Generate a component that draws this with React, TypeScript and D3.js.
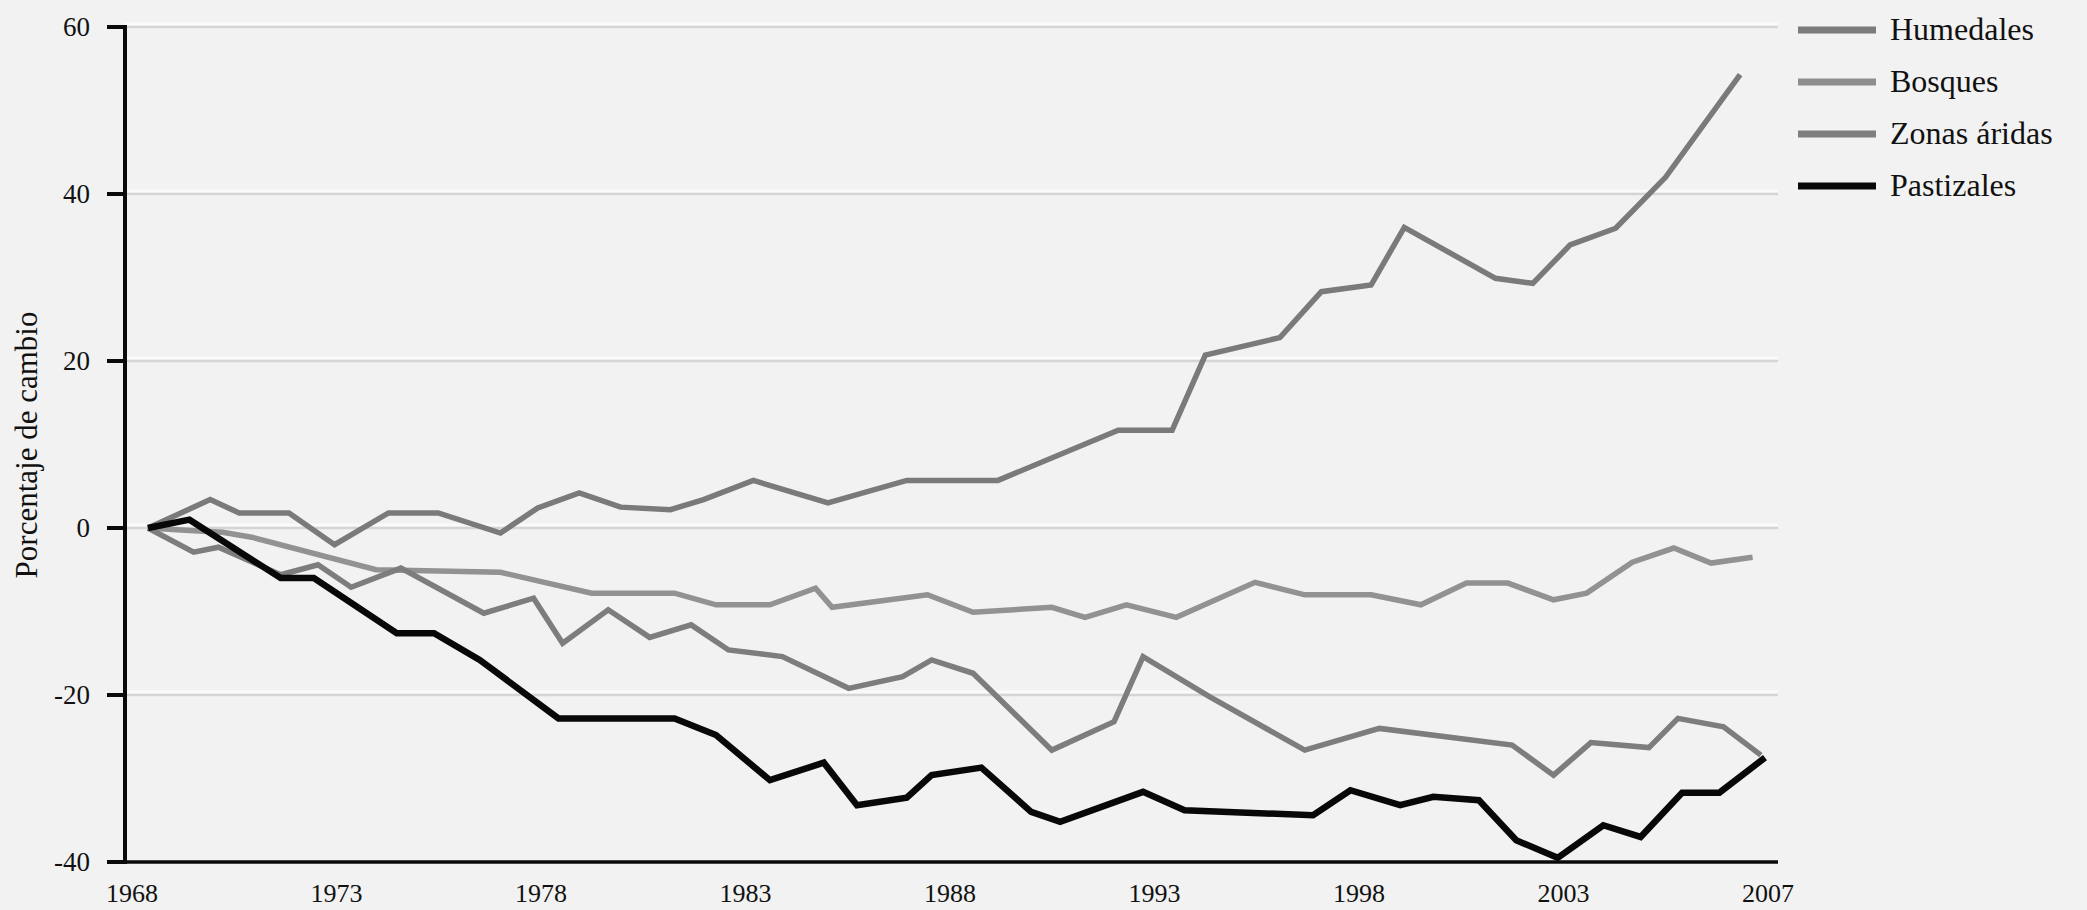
import { useMemo } from "react";
import * as d3 from "d3";

const tickLabels = ["1968", "1973", "1978", "1983", "1988", "1993", "1998", "2003", "2007"];
const yTicks = [60, 40, 20, 0, -20, -40];
const gridValues = [60, 40, 20, 0, -20];

const humedalesYears = [1968, 1969.5, 1970.2, 1971.4, 1972.5, 1973.8, 1975.0, 1976.5, 1977.4, 1978.4, 1979.4, 1980.6, 1981.4, 1982.6, 1984.4, 1986.3, 1988.5, 1991.4, 1992.7, 1993.5, 1995.3, 1996.3, 1997.5, 1998.3, 2000.5, 2001.4, 2002.3, 2003.4, 2004.6, 2006.4];
const humedalesValues = [0, 3.4, 1.8, 1.8, -2.0, 1.8, 1.8, -0.6, 2.4, 4.2, 2.5, 2.2, 3.4, 5.7, 3.0, 5.7, 5.7, 11.7, 11.7, 20.7, 22.8, 28.3, 29.1, 36.0, 29.9, 29.3, 33.9, 35.9, 42.0, 54.3];

const bosquesYears = [1968, 1969.0, 1969.8, 1970.5, 1973.5, 1976.5, 1978.7, 1980.7, 1981.7, 1983.0, 1984.1, 1984.5, 1986.8, 1987.9, 1989.8, 1990.6, 1991.6, 1992.8, 1994.7, 1995.9, 1997.5, 1998.7, 1999.8, 2000.8, 2001.9, 2002.7, 2003.8, 2004.8, 2005.7, 2006.7];
const bosquesValues = [0, -0.3, -0.5, -1.1, -5.0, -5.3, -7.8, -7.8, -9.2, -9.2, -7.2, -9.5, -8.0, -10.1, -9.5, -10.7, -9.2, -10.7, -6.5, -8.0, -8.0, -9.2, -6.6, -6.6, -8.6, -7.8, -4.1, -2.4, -4.2, -3.5];

const zonasYears = [1968, 1969.1, 1969.7, 1971.2, 1972.1, 1972.9, 1974.1, 1976.1, 1977.3, 1978.0, 1979.1, 1980.1, 1981.1, 1982.0, 1983.3, 1984.9, 1986.2, 1986.9, 1987.9, 1989.8, 1991.3, 1992.0, 1993.6, 1995.9, 1997.7, 2000.9, 2001.9, 2002.8, 2004.2, 2004.9, 2006.0, 2006.9];
const zonasValues = [0, -2.9, -2.3, -5.6, -4.4, -7.1, -4.8, -10.2, -8.4, -13.8, -9.8, -13.1, -11.6, -14.6, -15.4, -19.2, -17.8, -15.8, -17.4, -26.6, -23.2, -15.4, -20.2, -26.6, -24.0, -26.0, -29.6, -25.7, -26.3, -22.8, -23.8, -27.2];

const pastizalesYears = [1968, 1969, 1971.2, 1972, 1974, 1974.9, 1976, 1977.9, 1980.7, 1981.7, 1983, 1984.3, 1985.1, 1986.3, 1986.9, 1988.1, 1989.3, 1990, 1992, 1993, 1996.1, 1997, 1998.2, 1999, 2000.1, 2001, 2002, 2003.1, 2004, 2005, 2005.9, 2007];
const pastizalesValues = [0, 1.0, -6.0, -6.0, -12.6, -12.6, -15.8, -22.8, -22.8, -24.8, -30.2, -28.1, -33.2, -32.3, -29.6, -28.7, -34.0, -35.2, -31.6, -33.8, -34.4, -31.4, -33.2, -32.2, -32.6, -37.4, -39.5, -35.6, -37.0, -31.7, -31.7, -27.5];

const seriesNames = ["Humedales", "Bosques", "Zonas áridas", "Pastizales"];
const seriesYears = [humedalesYears, bosquesYears, zonasYears, pastizalesYears];
const seriesValues = [humedalesValues, bosquesValues, zonasValues, pastizalesValues];
const lineColors = ["#7a7a7a", "#929292", "#7d7d7d", "#080808"];
const legendColors = ["#7b7b7b", "#8e8e8e", "#7f7f7f", "#080808"];
const lineWidths = [5.5, 5.5, 5.5, 6.5];

const width = 2087;
const height = 910;
const font = "'Liberation Serif', 'Times New Roman', serif";

export default function App() {
    const x = useMemo(() => d3.scaleLinear().domain([1968, 2007]).range([148, 1765]), []);
    const y = useMemo(() => d3.scaleLinear().domain([-40, 60]).range([862, 27]), []);
    const xLabels = useMemo(() => d3.scalePoint<string>().domain(tickLabels).range([132, 1768]), []);

    const paths = useMemo(() => {
        const line = d3
            .line<[number, number]>()
            .x((d) => x(d[0]))
            .y((d) => y(d[1]));
        return seriesYears.map((years, i) => line(years.map((yr, j) => [yr, seriesValues[i][j]] as [number, number])) || undefined);
    }, [x, y]);

    const axisX = 125;
    const plotRight = 1778;

    return (
        <svg
            width={width}
            height={height}
            style={{ position: "absolute", left: 0, top: 0, display: "block", background: "#f2f2f2" }}
        >
            <rect x={0} y={0} width={width} height={height} fill="#f2f2f2" />

            {gridValues.map((v) => (
                <g key={v}>
                    <line x1={axisX} x2={plotRight} y1={y(v) - 3} y2={y(v) - 3} stroke="#fafafa" strokeWidth={3} />
                    <line x1={axisX} x2={plotRight} y1={y(v)} y2={y(v)} stroke="#d5d5d5" strokeWidth={2.5} />
                </g>
            ))}

            {paths.map((d, i) => (
                <path
                    key={seriesNames[i]}
                    d={d}
                    fill="none"
                    stroke={lineColors[i]}
                    strokeWidth={lineWidths[i]}
                    strokeLinejoin="miter"
                />
            ))}

            {/* axes */}
            <line x1={axisX} x2={axisX} y1={y(60) - 2} y2={y(-40) + 2} stroke="#0a0a0a" strokeWidth={4} />
            <line x1={107} x2={plotRight} y1={y(-40)} y2={y(-40)} stroke="#0a0a0a" strokeWidth={3.5} />
            {yTicks.map((t) => (
                <g key={t}>
                    <line x1={107} x2={axisX} y1={y(t)} y2={y(t)} stroke="#0a0a0a" strokeWidth={4} />
                    <text
                        x={90}
                        y={y(t)}
                        textAnchor="end"
                        dominantBaseline="central"
                        fontFamily={font}
                        fontSize={27}
                        fill="#111"
                    >
                        {t}
                    </text>
                </g>
            ))}
            {tickLabels.map((lbl) => (
                <text key={lbl} x={xLabels(lbl)} y={902} textAnchor="middle" fontFamily={font} fontSize={26} fill="#111">
                    {lbl}
                </text>
            ))}

            <text
                transform={`translate(37, 445) rotate(-90)`}
                textAnchor="middle"
                fontFamily={font}
                fontSize={31}
                fill="#111"
            >
                Porcentaje de cambio
            </text>

            {/* legend */}
            {seriesNames.map((name, i) => {
                const ly = 30 + i * 52;
                return (
                    <g key={name}>
                        <line x1={1798} x2={1876} y1={ly} y2={ly} stroke={legendColors[i]} strokeWidth={7} />
                        <text x={1890} y={ly + 10} fontFamily={font} fontSize={32} fill="#111">
                            {name}
                        </text>
                    </g>
                );
            })}
        </svg>
    );
}
